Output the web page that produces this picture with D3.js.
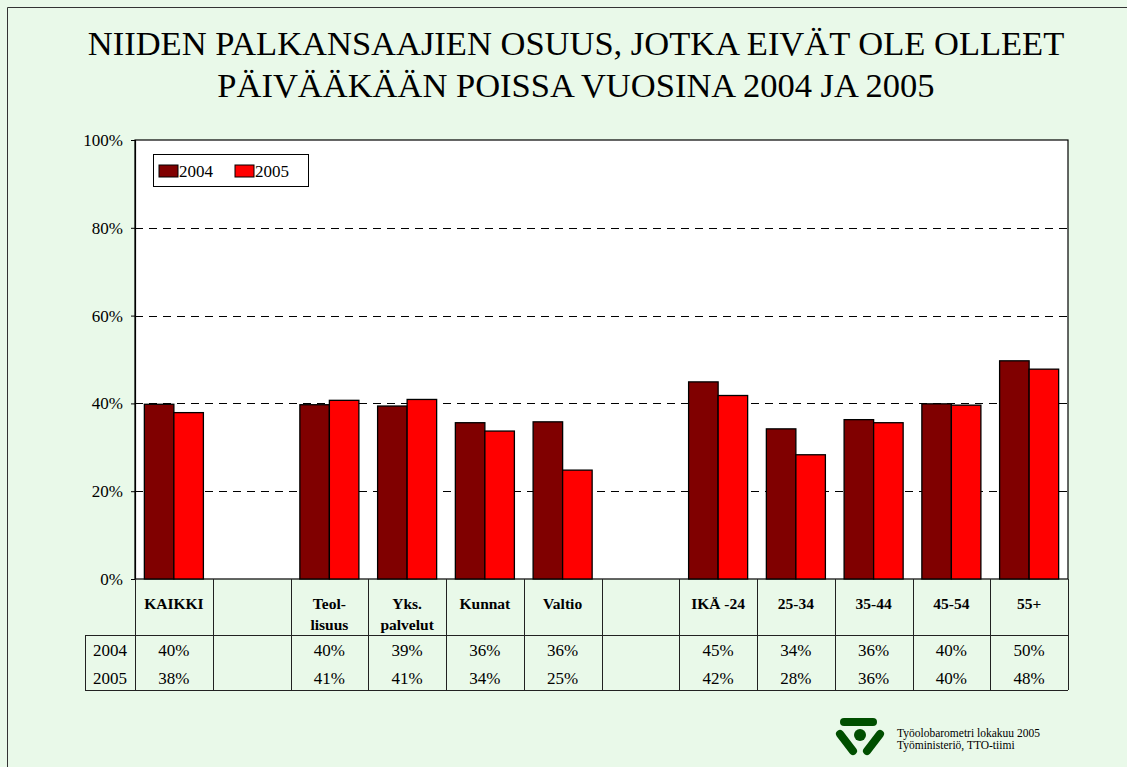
<!DOCTYPE html>
<html>
<head>
<meta charset="utf-8">
<script src="https://d3js.org/d3.v7.min.js"></script>
<style>
  html, body { margin: 0; padding: 0; background: #e9f9e9; }
  svg { display: block; }
</style>
</head>
<body>
<svg id="chart" width="1127" height="767"></svg>
<script>
// ── Data ──────────────────────────────────────────
const categories = ["KAIKKI", "", "Teol-\nlisuus", "Yks.\npalvelut", "Kunnat", "Valtio", "",
                    "IKÄ -24", "25-34", "35-44", "45-54", "55+"];
const years = ["2004", "2005"];
const values2004 = [39.8, null, 39.7, 39.4, 35.6, 35.8, null, 44.9, 34.2, 36.3, 39.9, 49.7];
const values2005 = [37.9, null, 40.7, 40.9, 33.7, 24.8, null, 41.8, 28.3, 35.6, 39.6, 47.8];
const yTicks = [0, 20, 40, 60, 80, 100];
const titleLines = ["NIIDEN PALKANSAAJIEN OSUUS, JOTKA EIVÄT OLE OLLEET",
                    "PÄIVÄÄKÄÄN POISSA VUOSINA 2004 JA 2005"];
const sourceLines = ["Työolobarometri lokakuu 2005", "Työministeriö, TTO-tiimi"];

const COLORS = { "2004": "#800000", "2005": "#ff0000" };
const FONT = '"Liberation Serif"';

const svg = d3.select('#chart');

// Background + border
svg.append('rect').attr('x', 0).attr('y', 0).attr('width', 1127).attr('height', 767).attr('fill', '#e9f9e9');
svg.append('path').attr('d', 'M7.5,767V7.5H1127').attr('fill', 'none').attr('stroke', '#333').attr('stroke-width', 1);

// Title
svg.append('g').selectAll('text').data(titleLines).join('text')
  .attr('x', 576).attr('y', (d, i) => 55 + i * 42)
  .attr('text-anchor', 'middle')
  .style('font-family', FONT).style('font-size', '34.5px')
  .attr('fill', '#000')
  .text(d => d);

// ── Scales ────────────────────────────────────────
const plot = { left: 135, right: 1068, top: 140, bottom: 579 };
const x = d3.scaleBand().domain(d3.range(categories.length)).range([plot.left, plot.right]).padding(0);
const xs = d3.scaleBand().domain(years).range([0, x.bandwidth()]).paddingInner(0).paddingOuter(0.317);
const y = d3.scaleLinear().domain([0, 100]).range([plot.bottom, plot.top]);

// Plot area
svg.append('rect')
  .attr('x', plot.left).attr('y', plot.top)
  .attr('width', plot.right - plot.left).attr('height', plot.bottom - plot.top)
  .attr('fill', '#fff').attr('stroke', '#000').attr('stroke-width', 1.2);

// Gridlines
svg.append('g').selectAll('line').data(yTicks.filter(t => t > 0 && t < 100)).join('line')
  .attr('x1', plot.left).attr('x2', plot.right)
  .attr('y1', d => Math.round(y(d)) + 0.5).attr('y2', d => Math.round(y(d)) + 0.5)
  .attr('stroke', '#000').attr('stroke-width', 1).attr('stroke-dasharray', '8,6');

// Y axis
const yAxis = svg.append('g')
  .attr('transform', `translate(${plot.left},0)`)
  .call(d3.axisLeft(y).tickValues(yTicks).tickSize(4).tickPadding(8).tickFormat(d => d + '%'));
yAxis.select('.domain').attr('stroke', '#000').attr('stroke-width', 1.2);
yAxis.selectAll('text')
  .style('font-family', FONT).style('font-size', '17px').attr('fill', '#000');
yAxis.selectAll('.tick line').attr('stroke', '#000');

// Bars
const series = [
  { year: "2004", values: values2004 },
  { year: "2005", values: values2005 }
];
const bars = [];
series.forEach(s => s.values.forEach((v, i) => { if (v != null) bars.push({ i, year: s.year, v }); }));

svg.append('g').selectAll('rect').data(bars).join('rect')
  .attr('x', d => x(d.i) + xs(d.year))
  .attr('y', d => y(d.v))
  .attr('width', xs.bandwidth())
  .attr('height', d => y(0) - y(d.v))
  .attr('fill', d => COLORS[d.year])
  .attr('stroke', '#000').attr('stroke-width', 1.3);

// ── Data table below ─────────────────────────────
const table = { headerBottom: 635, bottom: 690, labelLeft: 85 };
const tg = svg.append('g').attr('stroke', '#222').attr('stroke-width', 1);

// vertical lines at category boundaries
const bounds = d3.range(categories.length + 1).map(i => i < categories.length ? x(i) : plot.right);
tg.selectAll('line.v').data(bounds).join('line').attr('class', 'v')
  .attr('x1', d => Math.round(d) + 0.5).attr('x2', d => Math.round(d) + 0.5)
  .attr('y1', plot.bottom).attr('y2', table.bottom);
tg.append('line').attr('x1', table.labelLeft + 0.5).attr('x2', table.labelLeft + 0.5)
  .attr('y1', table.headerBottom).attr('y2', table.bottom);
tg.append('line').attr('x1', table.labelLeft).attr('x2', plot.right)
  .attr('y1', table.headerBottom + 0.5).attr('y2', table.headerBottom + 0.5);
tg.append('line').attr('x1', table.labelLeft).attr('x2', plot.right)
  .attr('y1', table.bottom + 0.5).attr('y2', table.bottom + 0.5);

// category labels
const cat = svg.append('g').selectAll('text').data(categories).join('text')
  .attr('x', (d, i) => x(i) + x.bandwidth() / 2)
  .attr('y', 609)
  .attr('text-anchor', 'middle')
  .style('font-family', FONT).style('font-size', '15.5px').style('font-weight', 'bold')
  .attr('fill', '#000');
cat.selectAll('tspan').data(d => d.split('\n')).join('tspan')
  .attr('x', function () { return this.parentNode.getAttribute('x'); })
  .attr('dy', (d, j) => j === 0 ? 0 : 21)
  .text(d => d);

// row labels + values
series.forEach((s, r) => {
  const rowY = 656 + r * 28;
  svg.append('text')
    .attr('x', 110).attr('y', rowY)
    .attr('text-anchor', 'middle')
    .style('font-family', FONT).style('font-size', '17px').attr('fill', '#000')
    .text(s.year);
  svg.append('g').selectAll('text').data(s.values.map((v, i) => ({ v, i })).filter(d => d.v != null)).join('text')
    .attr('x', d => x(d.i) + x.bandwidth() / 2)
    .attr('y', rowY)
    .attr('text-anchor', 'middle')
    .style('font-family', FONT).style('font-size', '17px').attr('fill', '#000')
    .text(d => Math.round(d.v) + '%');
});

// ── Legend ────────────────────────────────────────
const lg = svg.append('g').attr('transform', 'translate(153,154)');
lg.append('rect').attr('x', 0.5).attr('y', 0.5).attr('width', 155).attr('height', 32)
  .attr('fill', '#fff').attr('stroke', '#000').attr('stroke-width', 1);
years.forEach((yr, k) => {
  const gx = 6 + k * 76;
  lg.append('rect').attr('x', gx).attr('y', 11).attr('width', 19).attr('height', 12)
    .attr('fill', COLORS[yr]).attr('stroke', '#000').attr('stroke-width', 1);
  lg.append('text').attr('x', gx + 20).attr('y', 23)
    .style('font-family', FONT).style('font-size', '17px').attr('fill', '#000').text(yr);
});

// ── Logo + source ────────────────────────────────
const logo = svg.append('g').attr('fill', '#004f00').attr('stroke', '#004f00');
logo.append('line').attr('x1', 844).attr('y1', 722).attr('x2', 873).attr('y2', 722)
  .attr('stroke-width', 8).attr('stroke-linecap', 'round');
logo.append('line').attr('x1', 840).attr('y1', 734).attr('x2', 853).attr('y2', 751)
  .attr('stroke-width', 8).attr('stroke-linecap', 'round');
logo.append('line').attr('x1', 880).attr('y1', 734).attr('x2', 867).attr('y2', 751)
  .attr('stroke-width', 8).attr('stroke-linecap', 'round');
logo.append('circle').attr('cx', 860).attr('cy', 735).attr('r', 6).attr('stroke', 'none');

svg.append('g').selectAll('text').data(sourceLines).join('text')
  .attr('x', 897).attr('y', (d, i) => 737 + i * 12)
  .style('font-family', FONT).style('font-size', '11.5px').attr('fill', '#000')
  .text(d => d);
</script>
</body>
</html>
